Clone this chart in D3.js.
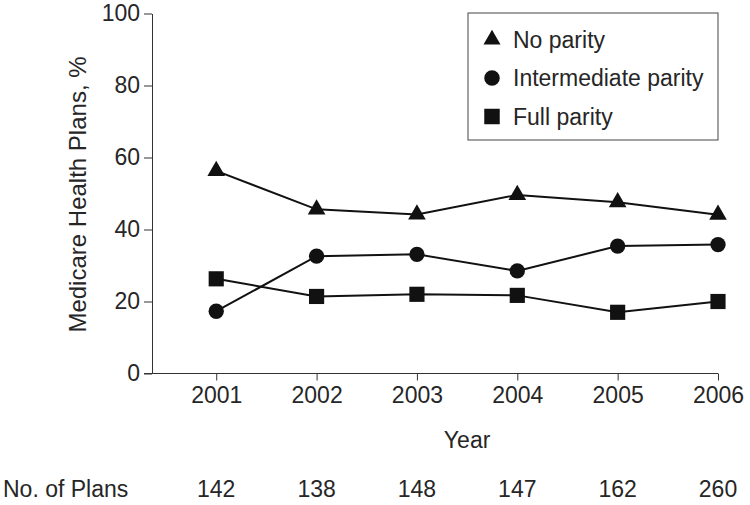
<!DOCTYPE html>
<html>
<head>
<meta charset="utf-8">
<script src="https://cdn.jsdelivr.net/npm/d3@7"></script>
<style>
  body { margin: 0; background: #fff; }
  text { font-family: "Liberation Sans", Arial, sans-serif; fill: #262626; }
</style>
</head>
<body>
<div id="chart"></div>
<script>
var years = [2001, 2002, 2003, 2004, 2005, 2006];
var noParity = [56.3, 45.6, 44.2, 49.6, 47.6, 44.1];
var intermediateParity = [17.3, 32.6, 33.1, 28.5, 35.4, 35.8];
var fullParity = [26.3, 21.4, 22.0, 21.7, 17.0, 20.0];
var planCounts = [142, 138, 148, 147, 162, 260];
var yTicks = [0, 20, 40, 60, 80, 100];

var series = [
  { name: "No parity", values: noParity, symbol: d3.symbolTriangle, size: 135, legendSize: 125 },
  { name: "Intermediate parity", values: intermediateParity, symbol: d3.symbolCircle, size: 185, legendSize: 190 },
  { name: "Full parity", values: fullParity, symbol: d3.symbolSquare, size: 230, legendSize: 240 }
];

var W = 750, H = 505;
var margin = { top: 13.5, left: 152 };
var width = 566, height = 360;
var fontSize = 23;

var svg = d3.select("#chart").append("svg")
  .attr("width", W)
  .attr("height", H);

var g = svg.append("g")
  .attr("transform", "translate(" + margin.left + "," + margin.top + ")");

var x = d3.scaleLinear().domain([2000.36, 2006]).range([0, width]);
var y = d3.scaleLinear().domain([0, 100]).range([height, 0]);

// y axis
var yAxis = g.append("g")
  .call(d3.axisLeft(y).tickValues(yTicks).tickSize(8).tickSizeOuter(0).tickPadding(4));
yAxis.select(".domain").attr("stroke", "#333");
yAxis.selectAll(".tick line").attr("stroke", "#333");
yAxis.selectAll("text").attr("font-size", fontSize).style("font-family", "Liberation Sans, Arial, sans-serif").attr("fill", "#262626");

// x axis
var xAxis = g.append("g")
  .attr("transform", "translate(0," + height + ")")
  .call(d3.axisBottom(x).tickValues(years).tickFormat(d3.format("d")).tickSize(7).tickSizeOuter(0).tickPadding(6));
xAxis.select(".domain").attr("d", "M-8,0H" + width).attr("stroke", "#333");
xAxis.selectAll(".tick line").attr("stroke", "#333");
xAxis.selectAll("text").attr("font-size", fontSize).style("font-family", "Liberation Sans, Arial, sans-serif").attr("fill", "#262626");

// axis titles
g.append("text")
  .attr("x", (x(2001) + x(2006)) / 2)
  .attr("y", height + 74)
  .attr("text-anchor", "middle")
  .attr("font-size", fontSize)
  .text("Year");

svg.append("text")
  .attr("transform", "translate(86," + (margin.top + 181) + ") rotate(-90)")
  .attr("text-anchor", "middle")
  .attr("font-size", 24)
  .text("Medicare Health Plans, %");

// lines and markers
var line = d3.line()
  .x(function(d, i) { return x(years[i]); })
  .y(function(d) { return y(d); });

series.forEach(function(s) {
  g.append("path")
    .datum(s.values)
    .attr("fill", "none")
    .attr("stroke", "#111")
    .attr("stroke-width", 2)
    .attr("d", line);

  g.selectAll(null)
    .data(s.values)
    .enter()
    .append("path")
    .attr("transform", function(d, i) { return "translate(" + x(years[i]) + "," + y(d) + ")"; })
    .attr("d", d3.symbol().type(s.symbol).size(s.size))
    .attr("fill", "#111");
});

// legend
var legend = svg.append("g").attr("transform", "translate(468,13)");
legend.append("rect")
  .attr("width", 250)
  .attr("height", 127)
  .attr("fill", "#fff")
  .attr("stroke", "#444")
  .attr("stroke-width", 1);

series.forEach(function(s, i) {
  var cy = 26.5 + i * 38.5;
  legend.append("path")
    .attr("transform", "translate(24," + cy + ")")
    .attr("d", d3.symbol().type(s.symbol).size(s.legendSize))
    .attr("fill", "#111");
  legend.append("text")
    .attr("x", 45)
    .attr("y", cy + 8)
    .attr("font-size", fontSize)
    .text(s.name);
});

// plan counts row
svg.append("text")
  .attr("x", 3)
  .attr("y", 497)
  .attr("font-size", fontSize)
  .text("No. of Plans");

svg.selectAll(".count")
  .data(planCounts)
  .enter()
  .append("text")
  .attr("class", "count")
  .attr("x", function(d, i) { return margin.left + x(years[i]); })
  .attr("y", 497)
  .attr("text-anchor", "middle")
  .attr("font-size", fontSize)
  .text(function(d) { return d; });
</script>
</body>
</html>
